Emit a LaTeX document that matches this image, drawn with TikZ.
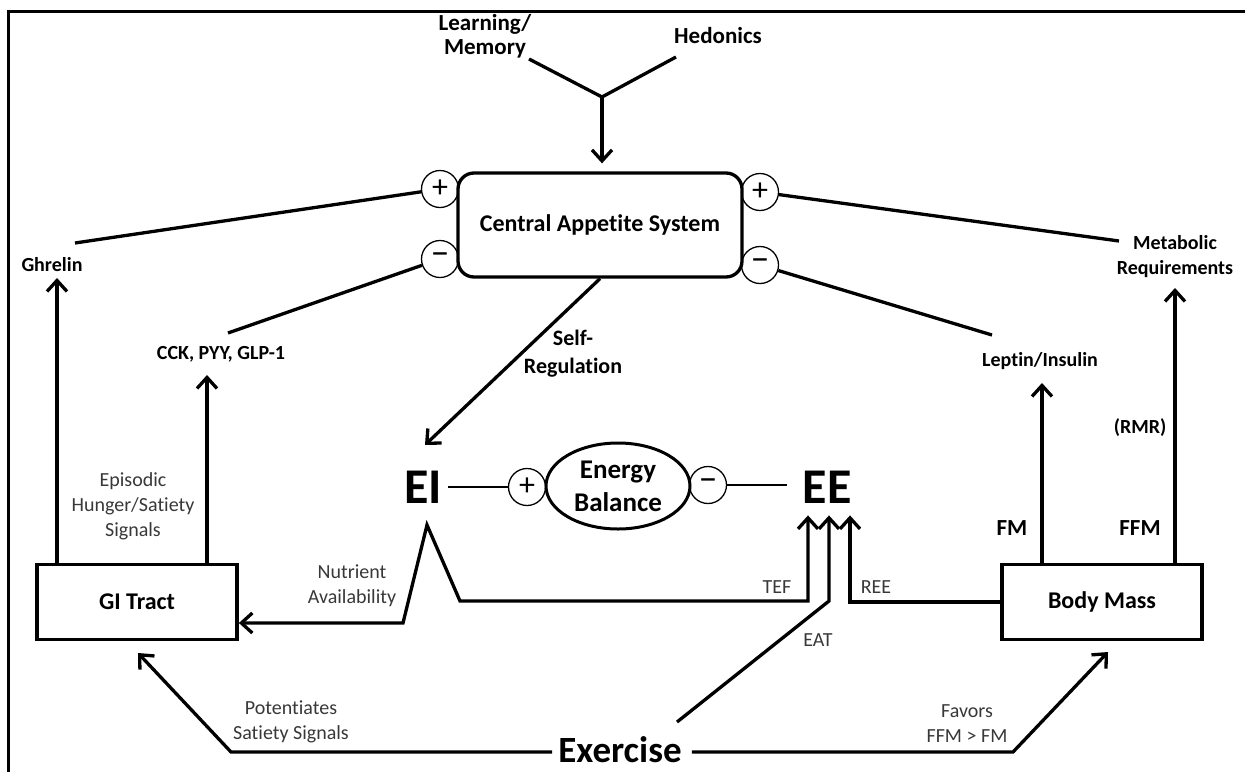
\documentclass[tikz,border=0pt]{standalone}
\usepackage{fontspec}
\setmainfont{Carlito}[Ligatures={NoCommon,NoRare,NoContextual}]
\usetikzlibrary{arrows.meta,shapes.geometric}
\begin{document}
\begin{tikzpicture}[x=1pt,y=-1pt,
  thk/.style={line width=3.3pt},
  arr/.style={line width=3.3pt,line join=miter,-{Straight Barb[length=11pt,width=20pt]}},
  ab/.style={line width=3.3pt,line join=miter,{Straight Barb[length=11pt,width=20pt]}-{Straight Barb[length=11pt,width=20pt]}},
  bl/.style={font=\bfseries\fontsize{20}{25}\selectfont,align=center,inner sep=0pt},
  bm23/.style={font=\bfseries\fontsize{23}{24}\selectfont,align=center,inner sep=0pt},
  gl/.style={font=\fontsize{20}{25}\selectfont,align=center,inner sep=0pt,text=black!78},
  big/.style={font=\bfseries\fontsize{50}{50}\selectfont,inner sep=0pt},
  sign/.style={circle,draw,line width=1.3pt,minimum size=37pt,inner sep=0pt,font=\fontsize{32}{32}\selectfont},
  msign/.style={sign,font=\fontsize{38}{38}\selectfont},
  boxn/.style={draw,line width=3.8pt,minimum width=200pt,minimum height=75pt,inner sep=0pt,font=\bfseries\fontsize{24}{28}\selectfont}]
\useasboundingbox (0,0) rectangle (1245,772);
\draw[line width=3pt] (8,772) -- (8,11) -- (1245,11);

% top inputs
\node[bm23] (lm) at (485,36) {Learning/\\Memory};
\node[bm23] (hed) at (718,36) {Hedonics};
\coordinate (lmE) at (529,59);
\coordinate (hedE) at (676,57);
\coordinate (J) at (602,97);
\draw[thk,line join=miter] (lmE) -- (J) -- (hedE);

% signs around central box
\node[sign] (p1) at (440,189) {+};
\node[msign] (m1) at (440,259) {–};
\node[sign] (p2) at (760,192) {+};
\node[msign] (m2) at (760,265) {–};

\node[draw,line width=3.3pt,rounded corners=16pt,minimum width=284pt,minimum height=104pt,inner sep=0pt,font=\bfseries\fontsize{24}{28}\selectfont] (cas) at (600,225) {Central Appetite System};
\draw[arr,shorten >=8pt] (J) -- (J |- cas.north);

% peripheral signals
\node[bl] (gh) at (52,265) {Ghrelin};
\node[bl] (cck) at (221,354) {CCK, PYY, GLP-1};
\node[bl] (lep) at (1040,361) {Leptin/Insulin};
\node[bl] (met) at (1175,257) {Metabolic\\Requirements};
\coordinate (ghE) at (75,243);
\coordinate (cckE) at (228,333);
\coordinate (metE) at (1119,241);
\coordinate (lepE) at (992,335);
\draw[thk] (ghE) -- (p1);
\draw[thk] (cckE) -- (m1);
\draw[thk] (p2) -- (metE);
\draw[thk] (m2) -- (lepE);

% boxes
\node[boxn] (gi) at (137,602) {GI Tract};
\node[boxn] (bm) at (1102,602) {Body Mass};

\coordinate (ghT) at (57,278);
\coordinate (cckT) at (207,375);
\coordinate (lepT) at (1042,383);
\coordinate (metT) at (1175,288);
\draw[arr] (ghT |- gi.north) -- (ghT);
\draw[arr] (cckT |- gi.north) -- (cckT);
\draw[arr] (lepT |- bm.north) -- (lepT);
\draw[arr] (metT |- bm.north) -- (metT);

\node[gl] (epi) at (133,506) {Episodic\\Hunger/Satiety\\Signals};
\node[bl,font=\bfseries\fontsize{22}{28}\selectfont] (sr) at (573,354) {Self-\\Regulation};
\node[bl] (rmr) at (1140,428) {(RMR)};
\node[bm23] (fm) at (1012,528) {FM};
\node[bm23] (ffm) at (1140,528) {FFM};

% energy balance
\node[big] (ei) at (423,487) {EI};
\node[big] (ee) at (827,487) {EE};
\node[ellipse,draw,line width=3pt,minimum width=144pt,minimum height=86pt,inner sep=0pt,align=center,font=\bfseries\fontsize{27}{33}\selectfont] (eb) at (618,486) {Energy\\Balance};
\node[sign] (pe) at (527,487) {+};
\node[msign] (me) at (708,485) {–};
\draw[line width=2.5pt,shorten <=6pt] (ei.east) -- (pe);
\draw[line width=2.5pt,shorten >=15pt] (me) -- (me -| ee.west);
\coordinate (eiT) at (425,445);
\draw[arr] (cas.south) -- (eiT);

% intake split
\coordinate (nA) at (403,623);
\coordinate (pk) at (427,525);
\coordinate (nB) at (460,601);
\coordinate (tef) at (808,601);
\draw[ab,shorten >=12pt] (gi.east |- nA) -- (nA) -- (pk) -- (nB) -- (tef) -- (tef |- ee.south);
\coordinate (eatS) at (677,722);
\coordinate (eat) at (829,601);
\draw[arr,shorten >=12pt] (eatS) -- (eat) -- (eat |- ee.south);
\coordinate (ree) at (850,602);
\draw[arr,shorten >=12pt] (bm.west |- ree) -- (ree) -- (ree |- ee.south);

\node[gl] (nut) at (352,586) {Nutrient\\Availability};
\node[gl] (tefl) at (777,587) {TEF};
\node[gl] (eatl) at (818,640) {EAT};
\node[gl] (reel) at (876,587) {REE};

% exercise
\node[font=\bfseries\fontsize{37}{40}\selectfont,inner sep=0pt] (ex) at (620,750) {Exercise};
\coordinate (exL) at (231,752);
\coordinate (giT) at (138,653);
\draw[arr,shorten <=6pt] (ex.west |- exL) -- (exL) -- (giT);
\coordinate (exR) at (1013,752);
\coordinate (bmT) at (1108,652);
\draw[arr,shorten <=10pt] (ex.east |- exR) -- (exR) -- (bmT);
\node[gl] (pot) at (291,722) {Potentiates\\Satiety Signals};
\node[gl] (fav) at (967,724) {Favors\\FFM > FM};
\end{tikzpicture}
\end{document}
